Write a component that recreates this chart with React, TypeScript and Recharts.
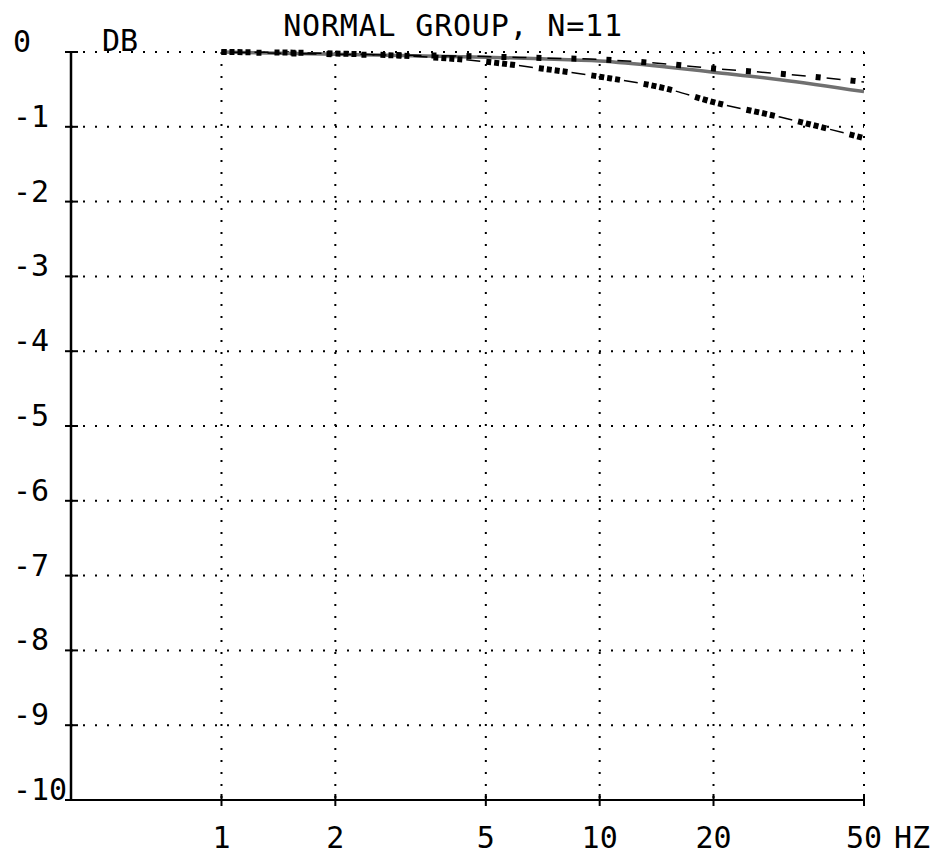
import React from 'react';
import { LineChart, Line, XAxis, YAxis, CartesianGrid, Customized } from 'recharts';

const freqs = [1, 2, 5, 7, 10, 15, 20, 30, 50];
const seriesSolid = [0, -0.03, -0.07, -0.09, -0.12, -0.2, -0.27, -0.37, -0.53];
const seriesUpper = [0, -0.03, -0.06, -0.08, -0.1, -0.16, -0.22, -0.29, -0.4];
const seriesLower = [0, -0.02, -0.13, -0.22, -0.33, -0.49, -0.67, -0.87, -1.15];
const xTicks = [1, 2, 5, 10, 20, 50];
const yTicks = [0, -1, -2, -3, -4, -5, -6, -7, -8, -9, -10];
const title = 'NORMAL GROUP, N=11';
const yUnit = 'DB';
const xUnit = 'HZ';

const data = freqs.map((f, i) => ({ f, a: seriesSolid[i], b: seriesUpper[i], c: seriesLower[i] }));

const FONT = "'DejaVu Sans Mono', monospace";
const FS = 30;

const XTick = (props: any) => {
  const { x, y, payload } = props;
  return (
    <g>
      <line x1={x} x2={x} y1={y - 6} y2={y + 6} stroke="#000" strokeWidth={2} />
      <text x={x} y={y + 48} textAnchor="middle" fontFamily={FONT} fontSize={FS} fill="#000">
        {payload.value}
      </text>
      {payload.value === 50 && (
        <text x={x + 30} y={y + 48} textAnchor="start" fontFamily={FONT} fontSize={FS} fill="#000">
          {xUnit}
        </text>
      )}
    </g>
  );
};

const YTick = (props: any) => {
  const { x, y, payload } = props;
  return (
    <g>
      <line x1={x - 6} x2={x + 7} y1={y} y2={y} stroke="#000" strokeWidth={2} />
      <text x={x - 58} y={y} textAnchor="start" fontFamily={FONT} fontSize={FS} fill="#000">
        {payload.value}
      </text>
    </g>
  );
};

const Texts = () => (
  <g>
    <text x={453} y={36} textAnchor="middle" fontFamily={FONT} fontSize={FS} letterSpacing={0.8} fill="#000">
      {title}
    </text>
    <text x={102} y={51} textAnchor="start" fontFamily={FONT} fontSize={FS} fill="#000">
      {yUnit}
    </text>
  </g>
);

export default function App() {
  return (
    <div style={{ position: 'absolute', left: 0, top: 0, width: 947, height: 856, background: '#fff' }}>
      <LineChart width={947} height={856} data={data} margin={{ top: 52, right: 83, left: 0, bottom: 26 }}>
        <CartesianGrid stroke="#000" strokeWidth={2} strokeDasharray="2 10" />
        <XAxis
          dataKey="f"
          type="number"
          scale="log"
          domain={[0.4, 50]}
          allowDataOverflow
          ticks={xTicks}
          height={30}
          tickSize={0}
          tickMargin={0}
          tickLine={false}
          axisLine={{ stroke: '#000', strokeWidth: 2 }}
          tick={<XTick />}
          interval={0}
        />
        <YAxis
          type="number"
          domain={[-10, 0]}
          ticks={yTicks}
          width={71}
          tickSize={0}
          tickMargin={0}
          tickLine={false}
          axisLine={{ stroke: '#000', strokeWidth: 2.5 }}
          tick={<YTick />}
          interval={0}
        />
        <Line key="a" dataKey="a" type="monotone" stroke="#707070" strokeWidth={3.5} dot={false} isAnimationActive={false} />
        <Line key="b1" dataKey="b" type="monotone" stroke="#000" strokeWidth={1.5} strokeDasharray="0 11 14 10" dot={false} isAnimationActive={false} />
        <Line key="b2" dataKey="b" type="monotone" stroke="#000" strokeWidth={6} strokeDasharray="5 30" dot={false} isAnimationActive={false} />
        <Line key="c1" dataKey="c" type="monotone" stroke="#000" strokeWidth={1.5} strokeDasharray="0 33 14 6" dot={false} isAnimationActive={false} />
        <Line key="c2" dataKey="c" type="monotone" stroke="#000" strokeWidth={6} strokeDasharray="5 3 5 3 5 3 5 24" dot={false} isAnimationActive={false} />
        <Customized component={Texts} />
      </LineChart>
    </div>
  );
}
